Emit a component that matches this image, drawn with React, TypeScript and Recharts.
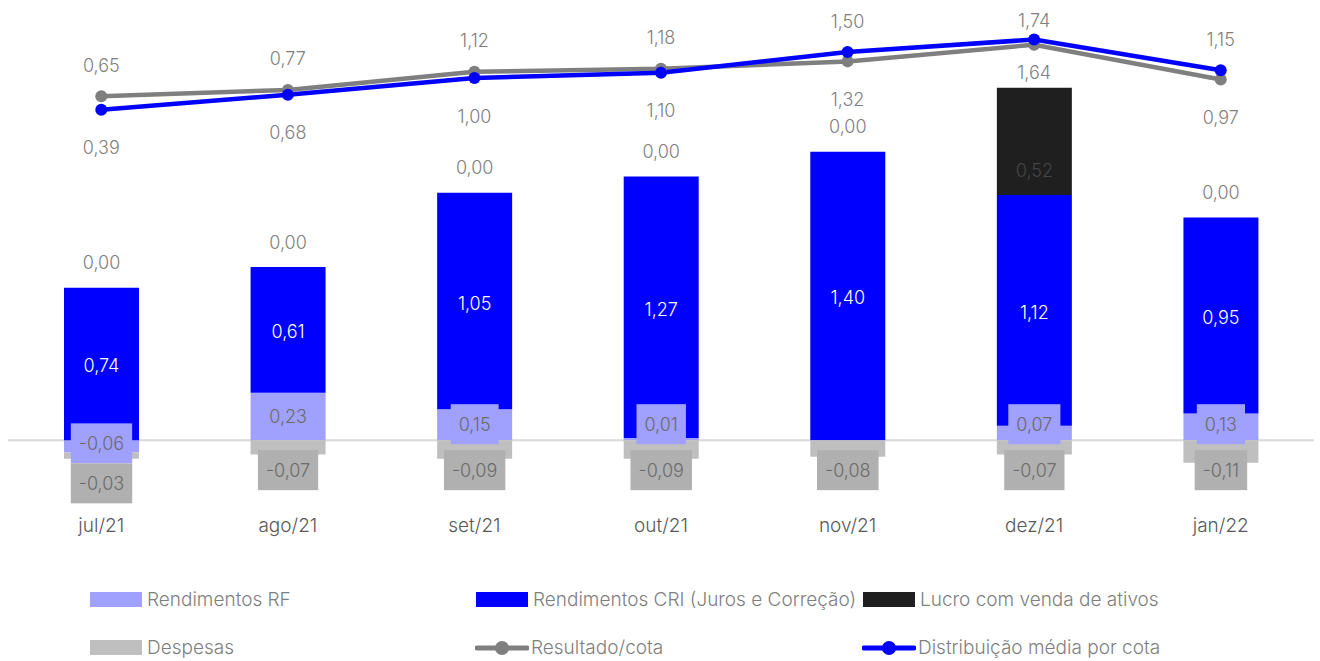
import React from 'react';
import { ComposedChart, Bar, Line, XAxis, YAxis, CartesianGrid, LabelList } from 'recharts';

const categories = ['jul/21', 'ago/21', 'set/21', 'out/21', 'nov/21', 'dez/21', 'jan/22'];
const rendimentosRF = [-0.06, 0.23, 0.15, 0.01, 0.0, 0.07, 0.13];
const rendimentosCRI = [0.74, 0.61, 1.05, 1.27, 1.4, 1.12, 0.95];
const lucroVenda = [0, 0, 0, 0, 0, 0.52, 0];
const despesas = [-0.03, -0.07, -0.09, -0.09, -0.08, -0.07, -0.11];
const resultadoCota = [0.65, 0.77, 1.12, 1.18, 1.32, 1.64, 0.97];
const distribuicaoMedia = [0.39, 0.68, 1.0, 1.1, 1.5, 1.74, 1.15];

const data = categories.map((mes, i) => ({
  mes,
  rf: rendimentosRF[i],
  cri: rendimentosCRI[i],
  lucro: lucroVenda[i],
  desp: despesas[i],
  resultado: resultadoCota[i],
  distribuicao: distribuicaoMedia[i],
}));

const FONT = "Inter, 'Open Sans', sans-serif";
const RF_COLOR = '#a0a0ff';
const CRI_COLOR = '#0000ff';
const LUCRO_COLOR = '#1f1f1f';
const DESP_COLOR = '#bfbfbf';
const DESP_BOX = '#b0b0b0';
const RESULT_COLOR = '#7f7f7f';
const DIST_COLOR = '#0000ff';
const TEXT = '#6b6b6b';

// plot geometry (used only to keep line labels clear of the bars)
const PLOT_TOP = 28;
const PLOT_H = 474;
const Y_MIN = -0.3;
const Y_MAX = 2.0;
const R_MIN = -7.154;
const R_MAX = 1.962;
const yLeft = (v: number) => PLOT_TOP + ((Y_MAX - v) / (Y_MAX - Y_MIN)) * PLOT_H;

const fmt = (v: number) => v.toFixed(2).replace('.', ',');

let ctx: CanvasRenderingContext2D | null = null;
const textWidth = (s: string) => {
  if (!ctx) ctx = document.createElement('canvas').getContext('2d');
  if (!ctx) return s.length * 10;
  ctx.font = `300 18px ${FONT}`;
  return ctx.measureText(s).width;
};

const rect = (p: any) => {
  const y = Number(p.y);
  const h = Number(p.height) || 0;
  return {
    x: Number(p.x),
    w: Number(p.width),
    top: Math.min(y, y + h),
    bottom: Math.max(y, y + h),
    h: Math.abs(h),
  };
};

// LabelList value may come back as the stacked [low, high] pair
const valueOf = (p: any) => {
  const v = p.value;
  if (Array.isArray(v)) return Number(v[1]) - Number(v[0]);
  return Number(v);
};

const BoxText = ({ cx, cy, txt, fill }: { cx: number; cy: number; txt: string; fill: string }) => {
  const bw = textWidth(txt) + 16;
  return (
    <g>
      <rect x={cx - bw / 2} y={cy - 20} width={bw} height={40} fill={fill} />
      <text x={cx} y={cy} textAnchor="middle" dominantBaseline="central" fontFamily={FONT} fontWeight={300} fontSize={18} fill={TEXT}>
        {txt}
      </text>
    </g>
  );
};

const RfLabel = (p: any) => {
  const v = valueOf(p);
  if (!v) return null;
  const r = rect(p);
  let cy = (r.top + r.bottom) / 2;
  if (v > 0) cy = Math.min(cy, r.bottom - 16);
  else cy -= 3;
  return <BoxText cx={r.x + r.w / 2} cy={cy} txt={fmt(v)} fill={RF_COLOR} />;
};

// every month has expenses, so p.index follows the category order here
const DespLabel = (p: any) => {
  const v = despesas[p.index];
  const rf = rendimentosRF[p.index];
  const r = rect(p);
  const k = r.h / Math.abs(v);
  const zero = rf < 0 ? r.top - Math.abs(rf) * k : r.top;
  let cy = zero + 30;
  if (rf < 0) cy = Math.max(cy, zero + (Math.abs(rf) * k) / 2 + 37);
  return <BoxText cx={r.x + r.w / 2} cy={cy} txt={fmt(v)} fill={DESP_BOX} />;
};

// CRI is non-zero every month; it also carries the "0,00" label of months without asset sales
const CriLabel = (p: any) => {
  const r = rect(p);
  const lucro = lucroVenda[p.index];
  return (
    <g>
      <text x={r.x + r.w / 2} y={(r.top + r.bottom) / 2 + 2} textAnchor="middle" dominantBaseline="central" fontFamily={FONT} fontWeight={300} fontSize={18} fill="#ffffff">
        {fmt(valueOf(p))}
      </text>
      {lucro === 0 ? (
        <text x={r.x + r.w / 2} y={r.top - 25} textAnchor="middle" dominantBaseline="central" fontFamily={FONT} fontWeight={300} fontSize={18} fill={RESULT_COLOR}>
          {fmt(lucro)}
        </text>
      ) : null}
    </g>
  );
};

const LucroLabel = (p: any) => {
  const v = valueOf(p);
  if (!v) return null;
  const r = rect(p);
  return (
    <text x={r.x + r.w / 2} y={r.bottom - 24} textAnchor="middle" dominantBaseline="central" fontFamily={FONT} fontWeight={300} fontSize={18} fill="#454545">
      {fmt(v)}
    </text>
  );
};

const barTop = (i: number) =>
  yLeft([rendimentosRF[i], rendimentosCRI[i], lucroVenda[i]].filter((v) => v > 0).reduce((a, b) => a + b, 0));

const makeLineLabel = (own: number[], other: number[]) => (p: any) => {
  const i = p.index;
  const above = own[i] >= other[i];
  const x = Number(p.x);
  const y = Number(p.y);
  const cy = above ? Math.max(y - 31, 20) : Math.min(y + 38, barTop(i) - 15);
  return (
    <text x={x} y={cy} textAnchor="middle" dominantBaseline="central" fontFamily={FONT} fontWeight={300} fontSize={18} fill={RESULT_COLOR}>
      {fmt(own[i])}
    </text>
  );
};

const CategoryTick = ({ x, y, payload }: any) => (
  <text x={x} y={Number(y) + 23} textAnchor="middle" dominantBaseline="central" fontFamily={FONT} fontWeight={300} fontSize={19} fill="#595959">
    {payload.value}
  </text>
);

const legendText: React.CSSProperties = {
  position: 'absolute',
  fontFamily: FONT,
  fontWeight: 300,
  fontSize: 19,
  color: '#7f7f7f',
  lineHeight: '20px',
  whiteSpace: 'nowrap',
};

const Swatch = ({ x, y, color, label }: { x: number; y: number; color: string; label: string }) => (
  <>
    <div style={{ position: 'absolute', left: x, top: y - 8, width: 52, height: 15, background: color }} />
    <div style={{ ...legendText, left: x + 57, top: y - 10 }}>{label}</div>
  </>
);

const LineSwatch = ({ x, y, color, label }: { x: number; y: number; color: string; label: string }) => (
  <>
    <svg style={{ position: 'absolute', left: x, top: y - 10 }} width={54} height={20}>
      <line x1={2} y1={10} x2={52} y2={10} stroke={color} strokeWidth={5} strokeLinecap="round" />
      <circle cx={27} cy={10} r={7} fill={color} />
    </svg>
    <div style={{ ...legendText, left: x + 56, top: y - 10 }}>{label}</div>
  </>
);

// zero line of the bar axis, placed from the plot offset and the left domain
const zeroLine = ({ offset }: any) => [offset.top + (Y_MAX / (Y_MAX - Y_MIN)) * offset.height];

export default function App() {
  return (
    <div style={{ position: 'absolute', left: 0, top: 0, width: 1320, height: 661, background: '#ffffff' }}>
      <ComposedChart
        width={1320}
        height={560}
        data={data}
        stackOffset="sign"
        barGap={0}
        margin={{ top: PLOT_TOP, right: 6, left: 8, bottom: 560 - PLOT_TOP - PLOT_H - 40 }}
      >
        <XAxis dataKey="mes" axisLine={false} tickLine={false} tickSize={0} tickMargin={0} height={40} interval={0} tick={<CategoryTick />} />
        <YAxis yAxisId="left" hide type="number" domain={[Y_MIN, Y_MAX]} allowDataOverflow />
        <YAxis yAxisId="right" orientation="right" hide type="number" domain={[R_MIN, R_MAX]} allowDataOverflow />
        <CartesianGrid vertical={false} stroke="#d9d9d9" strokeWidth={2} horizontalCoordinatesGenerator={zeroLine} />
        <Bar yAxisId="left" dataKey="rf" name="Rendimentos RF" stackId="a" fill={RF_COLOR} barSize={75} isAnimationActive={false}>
          <LabelList dataKey="rf" content={<RfLabel />} />
        </Bar>
        <Bar yAxisId="left" dataKey="cri" name="Rendimentos CRI (Juros e Correção)" stackId="a" fill={CRI_COLOR} barSize={75} isAnimationActive={false}>
          <LabelList dataKey="cri" content={<CriLabel />} />
        </Bar>
        <Bar yAxisId="left" dataKey="lucro" name="Lucro com venda de ativos" stackId="a" fill={LUCRO_COLOR} barSize={75} isAnimationActive={false}>
          <LabelList dataKey="lucro" content={<LucroLabel />} />
        </Bar>
        <Bar yAxisId="left" dataKey="desp" name="Despesas" stackId="a" fill={DESP_COLOR} barSize={75} isAnimationActive={false}>
          <LabelList dataKey="desp" content={<DespLabel />} />
        </Bar>
        <Line
          yAxisId="right"
          dataKey="resultado"
          name="Resultado/cota"
          stroke={RESULT_COLOR}
          strokeWidth={4.5}
          dot={{ r: 6, fill: RESULT_COLOR, stroke: 'none' }}
          isAnimationActive={false}
        >
          <LabelList dataKey="resultado" content={makeLineLabel(resultadoCota, distribuicaoMedia)} />
        </Line>
        <Line
          yAxisId="right"
          dataKey="distribuicao"
          name="Distribuição média por cota"
          stroke={DIST_COLOR}
          strokeWidth={4.5}
          dot={{ r: 6, fill: DIST_COLOR, stroke: 'none' }}
          isAnimationActive={false}
        >
          <LabelList dataKey="distribuicao" content={makeLineLabel(distribuicaoMedia, resultadoCota)} />
        </Line>
      </ComposedChart>

      <Swatch x={90} y={600} color={RF_COLOR} label="Rendimentos RF" />
      <Swatch x={476} y={600} color={CRI_COLOR} label="Rendimentos CRI (Juros e Correção)" />
      <Swatch x={863} y={600} color={LUCRO_COLOR} label="Lucro com venda de ativos" />
      <Swatch x={90} y={648} color={DESP_COLOR} label="Despesas" />
      <LineSwatch x={475} y={648} color={RESULT_COLOR} label="Resultado/cota" />
      <LineSwatch x={862} y={648} color={DIST_COLOR} label="Distribuição média por cota" />
    </div>
  );
}
